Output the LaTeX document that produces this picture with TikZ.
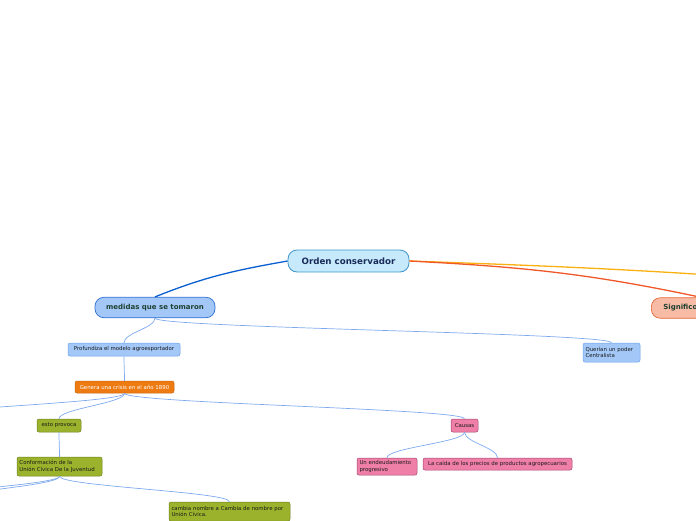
\documentclass[tikz,border=0pt]{standalone}
\usepackage{fontspec}
\setmainfont{DejaVu Sans}
\usepackage{xcolor}
\usepackage{tikz}
\usetikzlibrary{positioning}
\definecolor{RootFill}{HTML}{C6EAFB}
\definecolor{RootLine}{HTML}{3D95CC}
\definecolor{RootText}{HTML}{1A2A5A}
\definecolor{MainFill}{HTML}{A3C8F8}
\definecolor{MainLine}{HTML}{2D6FD5}
\definecolor{MainText}{HTML}{1E4030}
\definecolor{MainWire}{HTML}{0A5FD0}
\definecolor{SubWire}{HTML}{7EA9EE}
\definecolor{SubLine}{HTML}{6B9FE9}
\definecolor{CrisisFill}{HTML}{EE7A12}
\definecolor{OliveFill}{HTML}{9BB22C}
\definecolor{OliveLine}{HTML}{6E7F20}
\definecolor{PinkFill}{HTML}{F07FA8}
\definecolor{PinkLine}{HTML}{A0456E}
\definecolor{SalmonFill}{HTML}{F8BBA6}
\definecolor{SalmonLine}{HTML}{E8653A}
\definecolor{GoldWire}{HTML}{FBB012}
\definecolor{RedWire}{HTML}{F0582A}

\begin{document}
\begin{tikzpicture}[
  x=1pt,y=-1pt,
  topic/.style={draw=RootLine,fill=RootFill,line width=0.8pt,rounded corners=9pt,minimum width=121pt,minimum height=22pt,inner sep=0pt,font=\fontsize{8.7}{10}\selectfont\bfseries,text=RootText},
  branch/.style={draw=MainLine,fill=MainFill,line width=0.7pt,rounded corners=9pt,minimum height=20.5pt,inner sep=0pt,font=\fontsize{7}{8.4}\selectfont\bfseries,text=MainText},
  leaf/.style={rounded corners=2pt,line width=0.5pt,inner sep=0pt,font=\fontsize{5.4}{6.4}\selectfont,text=black!90,align=left},
  blueleaf/.style={leaf,draw=SubLine,fill=MainFill},
  crisisleaf/.style={leaf,draw=CrisisFill!85!black,fill=CrisisFill,text=white},
  oliveleaf/.style={leaf,draw=OliveLine,fill=OliveFill},
  pinkleaf/.style={leaf,draw=PinkLine,fill=PinkFill},
  link/.style={draw=SubWire,line width=0.7pt},
  mainlink/.style={line width=1.3pt}
]
\useasboundingbox (0,0) rectangle (696,520);
\node[topic] (orden) at (348.5,261) {Orden conservador};
\node[branch,minimum width=120pt] (medidas) at (155,307.5) {medidas que se tomaron};
\node[branch,draw=SalmonLine,fill=SalmonFill,anchor=west,text width=76pt,inner xsep=12pt,align=left] (signif) at (651,308) {Significo};
\node[blueleaf,minimum width=112pt,minimum height=13pt,align=center] (profund) at (124,349.5) {Profundiza el modelo agroesportador};
\node[blueleaf,minimum width=57pt,minimum height=19pt,text width=52pt] (querian) at (611.5,352.5) {Querían un poder\\Centralista};
\node[crisisleaf,minimum width=99pt,minimum height=12pt,align=center] (genera) at (124.5,387) {Genera una crisis en el año 1890};
\node[oliveleaf,minimum width=44pt,minimum height=13pt,align=center] (esto) at (59,425.5) {esto provoca};
\node[oliveleaf,minimum width=85pt,minimum height=19pt,text width=80pt] (conform) at (59.5,466.5) {Conformación de la\\Unión Cívica De la Juventud};
\node[oliveleaf,minimum width=121pt,minimum height=19pt,text width=116pt] (cambia) at (229.5,511.5) {cambia nombre a Cambia de nombre por\\Unión Cívica.};
\node[pinkleaf,minimum width=27pt,minimum height=13pt,align=center] (causas) at (464.5,425.5) {Causas};
\node[pinkleaf,minimum width=60pt,minimum height=17pt,text width=55pt] (endeud) at (387,466.5) {Un endeudamiento\\progresivo};
\node[pinkleaf,minimum width=149pt,minimum height=12pt,align=center] (caida) at (497.5,464) {La caída de los precios de productos agropecuarios};
\coordinate (goldend) at (770,279);
\coordinate (crisisout) at (-100,419);
\coordinate (juvoutA) at (-60,502);
\coordinate (juvoutB) at (-150,506);
\draw[mainlink,MainWire] (orden.west) to[out=190,in=22] (medidas.north);
\draw[mainlink,GoldWire] (orden.east) to[out=-2,in=176] (goldend);
\draw[mainlink,RedWire] (orden.east) to[out=-3,in=168] (signif.north);
\foreach \a/\b in {medidas/profund,medidas/querian,profund/genera,genera/esto,genera/causas,esto/conform,conform/cambia,causas/endeud,causas/caida}
  \draw[link] (\a.south) to[out=-90,in=90,max distance=10pt] (\b.north);
\foreach \a/\b in {genera/crisisout,conform/juvoutA,conform/juvoutB}
  \draw[link] (\a.south) to[out=-90,in=90,max distance=10pt] (\b);
\end{tikzpicture}
\end{document}
